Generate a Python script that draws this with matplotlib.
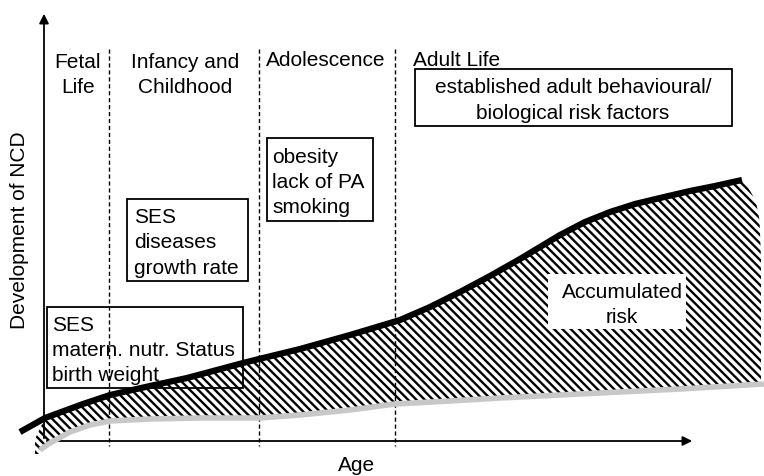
import matplotlib
matplotlib.use('Agg')
import matplotlib.pyplot as plt
from matplotlib.patches import Rectangle
import numpy as np

plt.rcParams['font.family'] = ['Liberation Sans', 'DejaVu Sans']
plt.rcParams['hatch.linewidth'] = 1.7

# curves (pixel-like units, y grows downward)
age_black = [20, 45, 83, 110, 150, 187, 243, 259, 300, 350, 400, 430, 460, 490, 520,
             560, 585, 610, 635, 660, 690, 715, 742]
ncd_black = [433, 419, 405, 396, 387, 379, 364, 360, 350, 336, 321, 308, 293, 277, 260,
             236, 223, 213, 205, 199, 192, 187, 181]
age_gray = [40, 50, 70, 90, 110, 150, 200, 259, 300, 350, 395, 450, 500, 560,
            620, 680, 764]
ncd_gray = [451, 444, 433, 426, 422, 420, 419, 419, 416, 411, 405, 402, 399, 396,
            393, 390, 385]
# hatched area: top edge follows the black curve, then rounds off at the right
age_top = [35] + age_black[1:] + [747, 752, 757, 760, 761]
ncd_top = [440] + ncd_black[1:] + [187, 195, 207, 224, 260]

phase_x = [109, 259, 395]
phases = ['Fetal\nLife', 'Infancy and\nChildhood', 'Adolescence', 'Adult Life']

FS = 15
LS = 1.42

fig = plt.figure(figsize=(7.64, 4.77), dpi=100)
ax = fig.add_axes([0, 0, 1, 1])
ax.set_xlim(0, 764)
ax.set_ylim(477, 0)
ax.axis('off')

# boxes (unfilled, sit below the curves)
boxes = [
    (47, 308, 196, 81, 'SES\nmatern. nutr. Status\nbirth weight', 52, 'left'),
    (127, 200, 121, 82, 'SES\ndiseases\ngrowth rate', 134, 'left'),
    (267, 139, 106, 83, 'obesity\nlack of PA\nsmoking', 272, 'left'),
    (415, 70, 317, 57, 'established adult behavioural/\nbiological risk factors', 573, 'center'),
]
for bx, by, bw, bh, txt, tx, ha in boxes:
    ax.add_patch(Rectangle((bx, by), bw, bh, fill=False, edgecolor='black', lw=1.3, zorder=2))
    ax.text(tx, by + bh / 2 + 2, txt, ha=ha, va='center', fontsize=FS, linespacing=LS, zorder=2)

# phase separators
for px in phase_x:
    ax.plot([px, px], [50, 447], ls=(0, (3, 2)), color='black', lw=1.0, zorder=3)

ax.text(78, 75, phases[0], ha='center', va='center', fontsize=FS, linespacing=LS)
ax.text(185, 75, phases[1], ha='center', va='center', fontsize=FS, linespacing=LS)
ax.text(326, 61, phases[2], ha='center', va='center', fontsize=FS)
ax.text(413, 61, phases[3], ha='left', va='center', fontsize=FS)

# accumulated risk area
xs = np.linspace(35, 761, 500)
top = np.interp(xs, age_top, ncd_top)
bot = np.interp(xs, age_gray, ncd_gray, left=455)
ax.fill_between(xs, top, bot, facecolor='none', edgecolor='black', hatch='\\\\\\\\',
                lw=0, zorder=4)

ax.plot(age_gray, ncd_gray, color='#c8c8c8', lw=4, solid_capstyle='butt', zorder=5)
ax.plot(age_black, ncd_black, color='black', lw=4.5, solid_capstyle='butt', zorder=6)

ax.add_patch(Rectangle((548, 275), 138, 55, facecolor='white', edgecolor='none', zorder=7))
ax.text(622, 305, 'Accumulated\nrisk', ha='center', va='center', fontsize=FS,
        linespacing=1.36, zorder=8)

# axes arrows
ax.annotate('', xy=(44, 12), xytext=(44, 442),
            arrowprops=dict(arrowstyle='-|>', color='black', lw=1.3, mutation_scale=14))
ax.annotate('', xy=(695, 442), xytext=(44, 442),
            arrowprops=dict(arrowstyle='-|>', color='black', lw=1.3, mutation_scale=14))

ax.text(357, 466, 'Age', ha='center', va='center', fontsize=FS)
ax.text(20, 230, 'Development of NCD', ha='center', va='center', rotation=90, fontsize=15)

plt.savefig('out.png', dpi=100)
